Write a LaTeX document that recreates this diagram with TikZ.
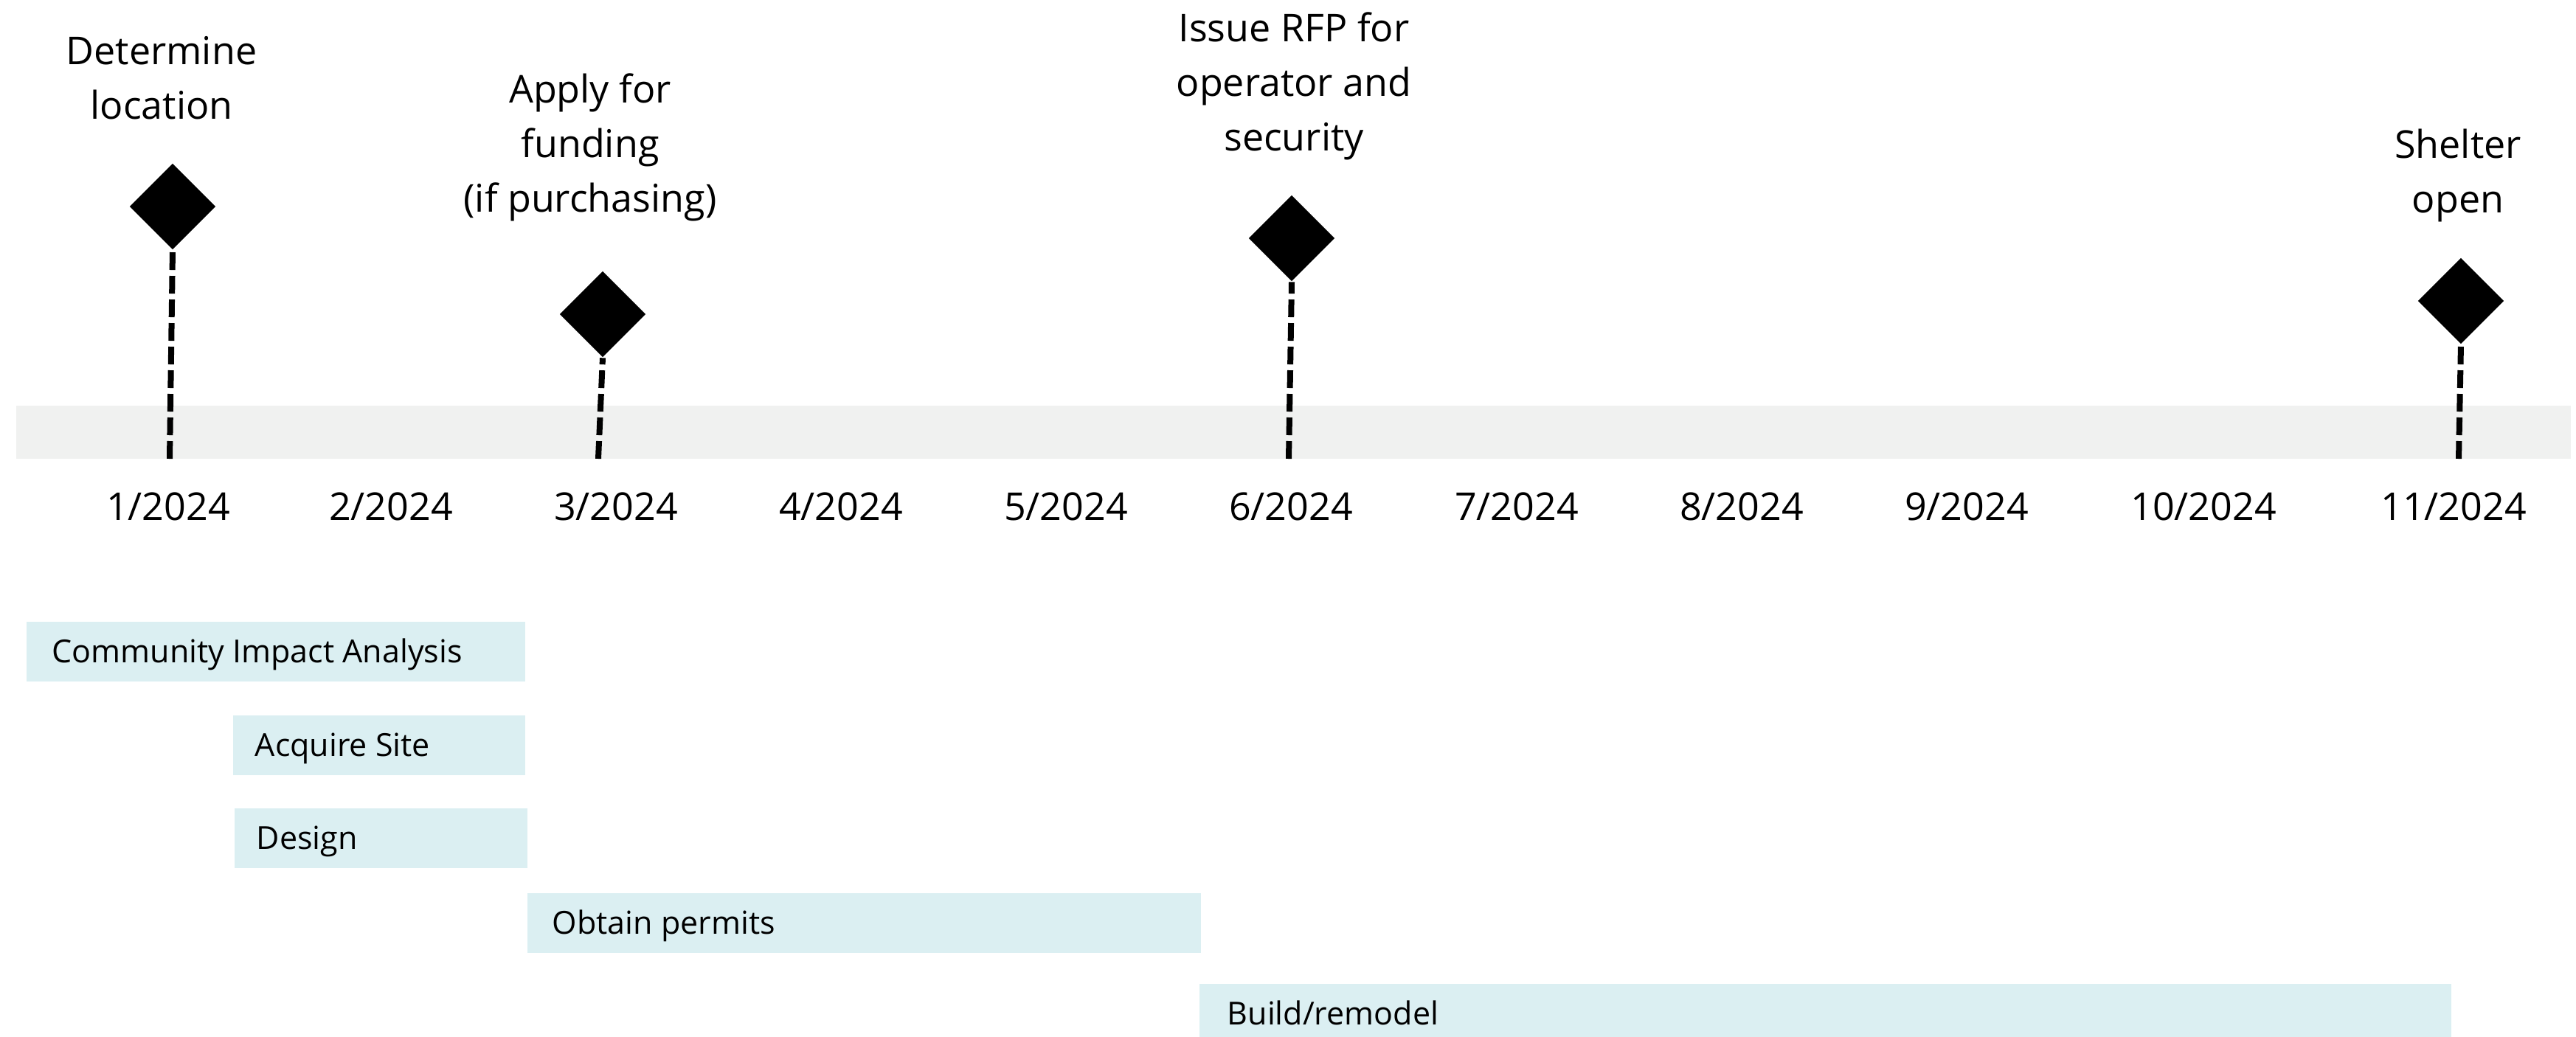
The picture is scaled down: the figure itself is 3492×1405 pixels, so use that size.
\documentclass[tikz,border=0pt]{standalone}
\usepackage{fontspec}
\setmainfont{Open Sans}
\usetikzlibrary{shapes.geometric}
\definecolor{bandgray}{HTML}{F0F1F0}
\definecolor{barcyan}{HTML}{DBEFF2}
\tikzset{
  milestone/.style={diamond, fill=black, minimum width=29.25pt, minimum height=29.25pt, inner sep=0pt},
  stem/.style={line width=2pt, dash pattern=on 6pt off 2pt},
  mlabel/.style={align=center, anchor=base, inner sep=0pt, font=\fontsize{13}{18.5}\selectfont},
  datelbl/.style={anchor=base, inner sep=0pt, font=\fontsize{13}{18.5}\selectfont},
  tasklbl/.style={anchor=base west, inner sep=0pt, font=\fontsize{10.75}{13}\selectfont},
}
\begin{document}
\begin{tikzpicture}[x=0.25pt, y=-0.25pt]
  \useasboundingbox (0,0) rectangle (3492,1405);
  % timeline band
  \fill[bandgray] (22,550) rectangle (3485,622);
  % months
  \foreach \x/\m in {228/1, 530/2, 835/3, 1140/4, 1445/5, 1750/6, 2056/7, 2361/8, 2666/9, 2987/10, 3326/11}
    \node[datelbl] (d\m) at (\x,705) {\m/2024};
  % milestones
  \foreach \n/\x/\y/\xb in {1/234/280/230, 2/817/426/811, 3/1751/323/1747, 4/3336/408/3333} {
    \node[milestone] (m\n) at (\x,\y) {};
    \coordinate (b\n) at (\xb,622);
    \draw[stem] (b\n) -- (m\n.south);
  }
  % labels (base = last line)
  \node[mlabel] (l1) at (219,161) {Determine\\location};
  \node[mlabel] (l2) at (800,287) {Apply for\\funding\\(if purchasing)};
  \node[mlabel] (l3) at (1754,204) {Issue RFP for\\operator and\\security};
  \node[mlabel] (l4) at (3332,288) {Shelter\\open};
  % tasks
  \foreach \n/\xa/\xb/\yt/\xt/\t in {cia/36/712/843/70/Community Impact Analysis,
      acq/316/712/970/345/Acquire Site,
      des/318/715/1096/347/Design,
      per/715/1628/1211/748/Obtain permits,
      bld/1626/3323/1334/1663/Build\slash remodel} {
    \fill[barcyan] (\xa,\yt) rectangle (\xb,\yt+81);
    \node[tasklbl] (\n) at (\xt,\yt+55.5) {\t};
  }
\end{tikzpicture}
\end{document}
